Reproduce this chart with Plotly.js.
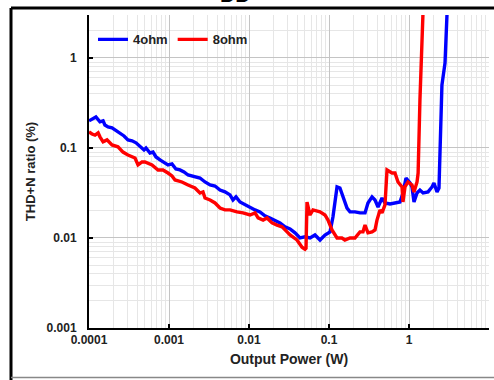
<!DOCTYPE html>
<html>
<head>
<meta charset="utf-8">
<script src="https://cdn.plot.ly/plotly-3.0.1.min.js"></script>
<style>html,body{margin:0;padding:0;background:#fff;}#chart{width:494px;height:380px;}</style>
</head>
<body>
<div id="chart"></div>
<script>
// Output power (W) and THD+N (%)
const power4 = [0.0001,0.000109,0.000122,0.000137,0.000150,0.000158,0.000173,0.000194,0.000218,0.000244,0.000274,0.000307,0.000345,0.000387,0.000434,0.000487,0.000516,0.000579,0.000631,0.000688,0.000772,0.000866,0.000972,0.00109,0.00122,0.00137,0.00154,0.00173,0.00194,0.00218,0.00244,0.00282,0.00326,0.00376,0.00434,0.00501,0.00579,0.00631,0.00688,0.00772,0.00891,0.0103,0.0119,0.0137,0.0158,0.0183,0.0211,0.0244,0.0282,0.0326,0.0376,0.0434,0.0501,0.0579,0.0668,0.0772,0.0891,0.103,0.112,0.126,0.137,0.150,0.168,0.183,0.211,0.244,0.282,0.307,0.345,0.376,0.410,0.460,0.501,0.579,0.708,0.772,0.841,0.917,1.03,1.09,1.155,1.26,1.37,1.50,1.73,1.94,2.05,2.24,2.37,2.58,2.82,3.0];
const thd4 = [0.200,0.210,0.221,0.195,0.200,0.180,0.171,0.167,0.155,0.147,0.136,0.123,0.120,0.114,0.103,0.095,0.100,0.088,0.090,0.0794,0.0736,0.0699,0.0648,0.0665,0.0585,0.0570,0.0541,0.0501,0.0489,0.0476,0.0464,0.0419,0.0388,0.0378,0.0341,0.0325,0.0301,0.0264,0.0286,0.0251,0.0233,0.0221,0.0205,0.0195,0.0176,0.0167,0.0158,0.0147,0.0133,0.0126,0.0114,0.0100,0.0103,0.0100,0.0108,0.0095,0.0108,0.0117,0.0171,0.0369,0.0359,0.0286,0.0215,0.0195,0.0195,0.0190,0.0190,0.0245,0.0286,0.0264,0.0221,0.0278,0.0245,0.0239,0.0245,0.0251,0.0316,0.0464,0.0408,0.0369,0.0251,0.0316,0.0341,0.0316,0.0325,0.0369,0.0408,0.0325,0.0359,0.50,0.88,3.4];

const power8 = [0.0001,0.000109,0.000119,0.000130,0.000137,0.000150,0.000168,0.000194,0.000230,0.000266,0.000307,0.000345,0.000376,0.000410,0.000460,0.000501,0.000613,0.000729,0.000841,0.000972,0.00109,0.00119,0.00145,0.00173,0.00211,0.00244,0.00266,0.00282,0.00326,0.00376,0.00434,0.00501,0.00579,0.00708,0.00841,0.0103,0.0119,0.0130,0.0150,0.0168,0.0194,0.0224,0.0259,0.0299,0.0326,0.0398,0.0460,0.0501,0.0516,0.0531,0.0579,0.0631,0.0772,0.0891,0.0972,0.109,0.126,0.145,0.158,0.183,0.211,0.244,0.266,0.282,0.307,0.345,0.376,0.398,0.434,0.460,0.501,0.531,0.613,0.668,0.729,0.818,0.841,0.891,0.972,1.09,1.155,1.26,1.30,1.37,1.45,1.50];
const thd8 = [0.151,0.143,0.139,0.147,0.133,0.117,0.123,0.108,0.103,0.090,0.0836,0.0794,0.0774,0.0648,0.0699,0.0699,0.0648,0.0570,0.0570,0.0527,0.0489,0.0441,0.0419,0.0388,0.0359,0.0316,0.0325,0.0278,0.0264,0.0245,0.0215,0.0205,0.0205,0.0195,0.0190,0.0180,0.0190,0.0167,0.0158,0.0167,0.0147,0.0139,0.0133,0.0117,0.0108,0.0095,0.0079,0.0075,0.0077,0.0251,0.0180,0.0205,0.0195,0.0180,0.0158,0.0123,0.0100,0.0100,0.0095,0.0100,0.0100,0.0117,0.0117,0.0139,0.0114,0.0117,0.0123,0.0158,0.0205,0.0190,0.0233,0.0570,0.0527,0.0527,0.0419,0.0369,0.0251,0.0369,0.0419,0.0388,0.0325,0.0419,0.0527,0.342,1.14,3.4];

const seriesNames = ['4ohm','8ohm'];
const xTickVals = [0.0001,0.001,0.01,0.1,1,10];
const xTickText = ['0.0001','0.001','0.01','0.1','1','10'];
const yTickVals = [0.001,0.01,0.1,1];
const yTickText = ['0.001','0.01','0.1','1'];

const FONT = 'Liberation Sans, Arial, sans-serif';
const traces = [
  {x: power4, y: thd4, name: seriesNames[0], type: 'scatter', mode: 'lines',
   line: {color: '#0000ff', width: 3.4}},
  {x: power8, y: thd8, name: seriesNames[1], type: 'scatter', mode: 'lines',
   line: {color: '#ff0000', width: 3.4}}
];

const layout = {
  width: 494, height: 380,
  margin: {l: 89, r: 5, t: 15, b: 52},
  paper_bgcolor: '#fff', plot_bgcolor: '#fff',
  font: {family: FONT, color: '#222', size: 12},
  showlegend: true,
  legend: {x: 0.01, y: 0.97, xanchor: 'left', yanchor: 'top', orientation: 'h',
    bgcolor: 'rgba(0,0,0,0)', font: {family: FONT, size: 13, color: '#222', weight: 'bold'},
    itemwidth: 30, tracegroupgap: 0},
  xaxis: {
    type: 'log', range: [-4, 1],
    tickvals: xTickVals, ticktext: xTickText,
    ticks: 'inside', ticklen: 4, tickwidth: 2, tickcolor: '#000',
    showline: true, linecolor: '#000', linewidth: 2,
    showgrid: true, gridcolor: '#c4c4c4', gridwidth: 1,
    minor: {dtick: 'D1', showgrid: true, gridcolor: '#e6e6e6', gridwidth: 1, ticks: ''},
    zeroline: false,
    tickfont: {family: FONT, size: 12, color: '#222', weight: 'bold'},
    title: {text: 'Output Power (W)', font: {family: FONT, size: 14, color: '#222', weight: 'bold'}, standoff: 8}
  },
  yaxis: {
    type: 'log', range: [-3, Math.log10(3)],
    tickvals: yTickVals, ticktext: yTickText,
    ticks: 'inside', ticklen: 4, tickwidth: 2, tickcolor: '#000',
    showline: true, linecolor: '#000', linewidth: 2,
    showgrid: true, gridcolor: '#c4c4c4', gridwidth: 1,
    minor: {dtick: 'D1', showgrid: true, gridcolor: '#e6e6e6', gridwidth: 1, ticks: ''},
    zeroline: false,
    ticklabelstandoff: 8,
    tickfont: {family: FONT, size: 12, color: '#222', weight: 'bold'},
    title: {text: 'THD+N ratio (%)', font: {family: FONT, size: 13, color: '#222', weight: 'bold'}, standoff: 8}
  },
  shapes: [
    {type: 'line', xref: 'paper', yref: 'paper', x0: -0.195, x1: 1.02, y0: 1.0224, y1: 1.0224, line: {color: '#000', width: 3}},
    {type: 'line', xref: 'paper', yref: 'paper', x0: -0.195, x1: -0.195, y0: -0.17, y1: 1.0224, line: {color: '#000', width: 3}},
    {type: 'line', xref: 'paper', yref: 'paper', x0: -0.195, x1: 1.02, y0: -0.158, y1: -0.158, line: {color: '#888', width: 1.5}}
  ],
  annotations: [
    {text: 'DD', xref: 'paper', yref: 'paper', x: 0.365, y: 1.0224, xanchor: 'center', yanchor: 'bottom',
     showarrow: false, font: {family: FONT, size: 21, color: '#000', weight: 'bold'}}
  ]
};

Plotly.newPlot('chart', traces, layout, {displayModeBar: false, staticPlot: true});
</script>
</body>
</html>
